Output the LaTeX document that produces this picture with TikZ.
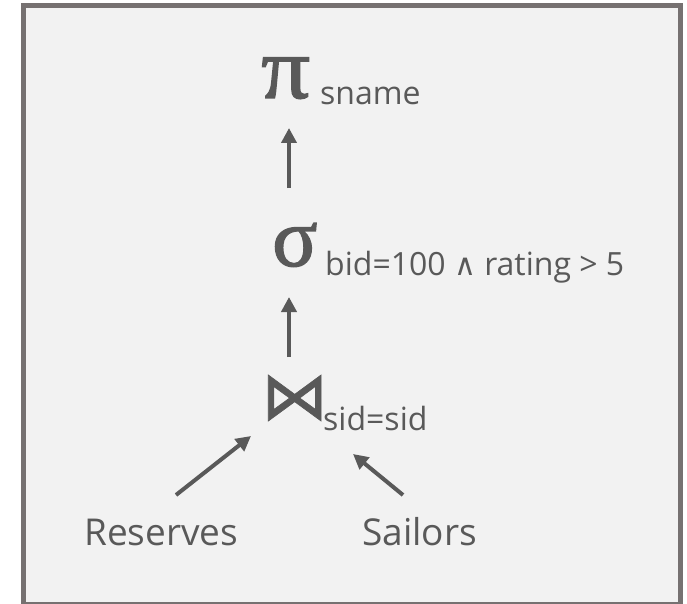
\documentclass[tikz,border=0pt]{standalone}
\usepackage{fontspec}
\setmainfont{Open Sans}
\newfontfamily\opfont[FakeBold=1.6,FakeStretch=1.1]{Liberation Serif}
\newfontfamily\selfont[FakeBold=1.6]{Liberation Serif}
\newfontfamily\joinfont[FakeBold=1.0]{DejaVu Sans}
\newfontfamily\dvfont{DejaVu Sans}
\usetikzlibrary{arrows.meta}
\definecolor{ink}{HTML}{595959}
\definecolor{panel}{HTML}{F2F2F2}
\definecolor{frame}{HTML}{767171}
\tikzset{
  op/.style={inner sep=0pt, anchor=base west, text=ink, font=\opfont\fontsize{88}{90}\selectfont},
  selop/.style={inner sep=0pt, anchor=base west, text=ink, font=\selfont\fontsize{84}{90}\selectfont},
  joinop/.style={inner sep=0pt, anchor=base west, text=ink, font=\joinfont\fontsize{67}{70}\selectfont},
  sub/.style={inner sep=0pt, anchor=base west, text=ink, font=\fontsize{32}{38}\selectfont},
  rel/.style={inner sep=0pt, anchor=base west, text=ink, font=\fontsize{37}{44}\selectfont},
  arr/.style={draw=ink, line width=4pt, -{Triangle[width=15pt,length=15pt]}}
}
\begin{document}
\begin{tikzpicture}[x=1pt,y=-1pt]
\useasboundingbox (0,0) rectangle (687,604);
% panel with frame
\draw[frame, line width=5pt, fill=panel] (23.5,5.5) rectangle (680.5,604.5);

% projection
\node[op] (pi) at (261,98) {π};
\node[sub] (pisub) at (320,105) {sname};
% selection
\node[selop] (sigma) at (272,266) {σ};
\node[sub] (sigsub) at (325,275) {bid=100 {\dvfont\fontsize{30}{34}\selectfont ∧} rating > 5};
% join
\node[joinop] (join) at (261,419) {⋈};
\node[sub] (joinsub) at (323,430) {sid=sid};
% base relations
\node[rel] (res) at (84,545) {Reserves};
\node[rel] (sai) at (362,545) {Sailors};

% arrow end points
\coordinate (a1s) at (289,188);
\coordinate (a1e) at (289,128);
\coordinate (a2s) at (289,357);
\coordinate (a2e) at (289,297);
\coordinate (a3s) at (176,495);
\coordinate (a3e) at (251,436);
\coordinate (a4s) at (403,495);
\coordinate (a4e) at (353,454);

\draw[arr] (a1s) -- (a1e);
\draw[arr] (a2s) -- (a2e);
\draw[arr] (a3s) -- (a3e);
\draw[arr] (a4s) -- (a4e);
\end{tikzpicture}
\end{document}
